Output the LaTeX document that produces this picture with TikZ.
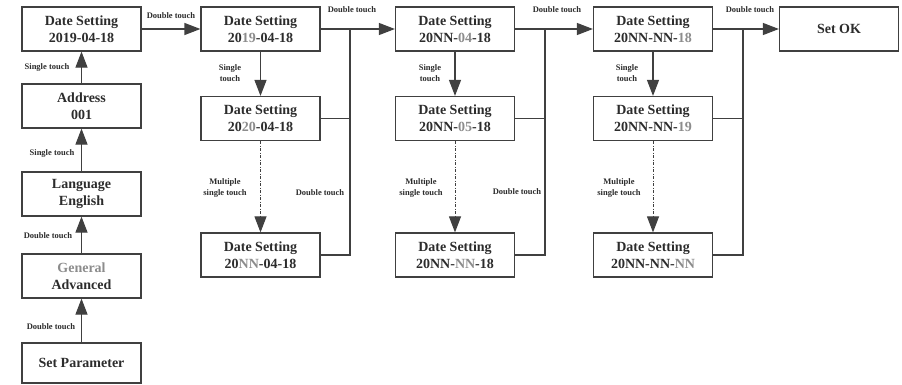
\documentclass[tikz,border=0pt]{standalone}
\usepackage{fontspec}
\setmainfont{Liberation Serif}
\usetikzlibrary{arrows.meta}
\definecolor{inkgray}{HTML}{2C2C2C}
\definecolor{linegray}{HTML}{404040}
\definecolor{softgray}{HTML}{8C8C8C}
\newcommand{\gr}[1]{\textcolor{softgray}{#1}}

\begin{document}
\begin{tikzpicture}[x=1pt,y=-1pt,
  box/.style={draw=linegray, line width=1.2pt, minimum width=119pt, minimum height=44pt, inner sep=0pt, align=center, text=inkgray, font=\fontsize{14}{17}\selectfont\bfseries},
  lbl/.style={text=inkgray, align=center, inner sep=0pt, font=\fontsize{8.5}{11}\selectfont\bfseries},
  link/.style={draw=linegray, line width=1.2pt},
  go/.style={link, -{Triangle[length=16pt,width=12pt]}},
  multi/.style={go, line width=1pt, dash pattern=on 3pt off 1.5pt on 1pt off 1.5pt}]
\useasboundingbox (0,0) rectangle (902,384);
\node[box] (set1) at (81.5,29) {Date Setting\\2019-04-18};
\node[box] (addr) at (81.5,106) {Address\\001};
\node[box] (lang) at (81.5,194) {Language\\English};
\node[box] (mode) at (81.5,276) {\gr{General}\\Advanced};
\node[box, minimum height=40pt] (param) at (81.5,363) {Set Parameter};
\node[box] (y1) at (260.5,29) {Date Setting\\20\gr{19}-04-18};
\node[box] (y2) at (260.5,118.5) {Date Setting\\20\gr{20}-04-18};
\node[box] (y3) at (260.5,255) {Date Setting\\20\gr{NN}-04-18};
\node[box] (m1) at (455,29) {Date Setting\\20NN-\gr{04}-18};
\node[box] (m2) at (455,118.5) {Date Setting\\20NN-\gr{05}-18};
\node[box] (m3) at (455,255) {Date Setting\\20NN-\gr{NN}-18};
\node[box] (d1) at (653,29) {Date Setting\\20NN-NN-\gr{18}};
\node[box] (d2) at (653,118.5) {Date Setting\\20NN-NN-\gr{19}};
\node[box] (d3) at (653,255) {Date Setting\\20NN-NN-\gr{NN}};
\node[box] (ok) at (839,29) {Set OK};
\coordinate (jy) at (350,29);
\coordinate (jm) at (545,29);
\coordinate (jd) at (743,29);
\draw[go] (param) -- (mode);
\draw[go] (mode) -- (lang);
\draw[go] (lang) -- (addr);
\draw[go] (addr) -- (set1);
\draw[go] (set1) -- (y1);
\draw[go] (y1) -- (m1);
\draw[go] (m1) -- (d1);
\draw[go] (d1) -- (ok);
\draw[go] (y1) -- (y2);
\draw[go] (m1) -- (m2);
\draw[go] (d1) -- (d2);
\draw[multi] (y2) -- (y3);
\draw[multi] (m2) -- (m3);
\draw[multi] (d2) -- (d3);
\draw[link] (y2.east) -| (jy);
\draw[link] (y3.east) -| (jy);
\draw[link] (m2.east) -| (jm);
\draw[link] (m3.east) -| (jm);
\draw[link] (d2.east) -| (jd);
\draw[link] (d3.east) -| (jd);
\node[lbl] (lp) at (51,327) {Double touch};
\node[lbl] (lm) at (48,236) {Double touch};
\node[lbl] (ll) at (52,153) {Single touch};
\node[lbl] (la) at (47,67) {Single touch};
\node[lbl] (ls) at (171,16) {Double touch};
\node[lbl] (ly) at (352,10) {Double touch};
\node[lbl] (lmd) at (557,10) {Double touch};
\node[lbl] (ld) at (750,10) {Double touch};
\node[lbl] (sy) at (230,73.5) {Single\\touch};
\node[lbl] (sm) at (430,73.5) {Single\\touch};
\node[lbl] (sd) at (627,73.5) {Single\\touch};
\node[lbl] (ny) at (225,188) {Multiple\\single touch};
\node[lbl] (nm) at (421,188) {Multiple\\single touch};
\node[lbl] (nd) at (619,188) {Multiple\\single touch};
\node[lbl] (by) at (320,193) {Double touch};
\node[lbl] (bm) at (517,192) {Double touch};
\end{tikzpicture}
\end{document}
